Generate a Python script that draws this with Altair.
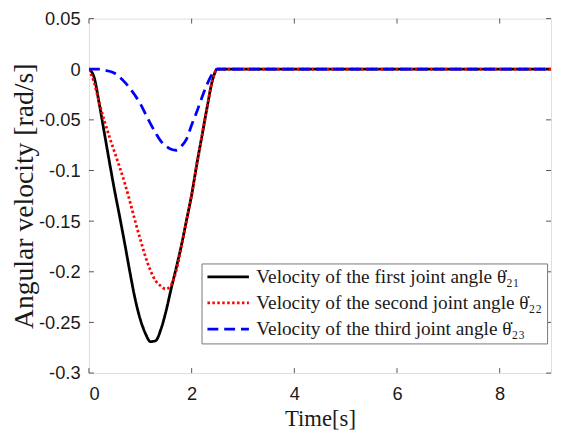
import altair as alt
import pandas as pd

# time samples [s]
time_s = [0.0, 0.1, 0.2, 0.3, 0.4, 0.5, 0.6, 0.7, 0.8, 0.9, 1.0, 1.1, 1.2, 1.3,
          1.4, 1.5, 1.6, 1.7, 1.8, 1.9, 2.0, 2.1, 2.2, 2.3, 2.4, 2.5, 9.0]

theta21 = [0, -0.008, -0.034, -0.063, -0.092, -0.120, -0.146, -0.173, -0.201, -0.227,
           -0.247, -0.261, -0.269, -0.268, -0.257, -0.239, -0.217, -0.196, -0.174, -0.149,
           -0.124, -0.094, -0.066, -0.038, -0.012, 0, 0]
theta22 = [0, -0.013, -0.033, -0.051, -0.067, -0.082, -0.097, -0.113, -0.131, -0.150,
           -0.168, -0.185, -0.199, -0.209, -0.214, -0.217, -0.213, -0.199, -0.176, -0.150,
           -0.124, -0.094, -0.066, -0.038, -0.012, 0, 0]
theta23 = [0, 0, 0, -0.001, -0.002, -0.004, -0.008, -0.013, -0.019, -0.026,
           -0.034, -0.044, -0.054, -0.063, -0.071, -0.076, -0.079, -0.080, -0.076, -0.069,
           -0.055, -0.042, -0.028, -0.015, -0.005, 0, 0]

series_names = [
    "Velocity of the first joint angle θ̇₂₁",
    "Velocity of the second joint angle θ̇₂₂",
    "Velocity of the third joint angle θ̇₂₃",
]
series_colors = ["#000000", "#ff0000", "#0000ff"]
series_dash = [[1, 0], [2.5, 2.5], [11, 6]]

x_ticks = [0, 2, 4, 6, 8]
y_ticks = [0.05, 0, -0.05, -0.1, -0.15, -0.2, -0.25, -0.3]

rows = []
for name, vals in zip(series_names, [theta21, theta22, theta23]):
    for t, v in zip(time_s, vals):
        rows.append({"t": t, "value": v, "series": name})
df = pd.DataFrame(rows)

W, H = 468, 359
TL = 5

xscale = alt.Scale(domain=[0, 9], nice=False, zero=False)
yscale = alt.Scale(domain=[-0.3, 0.05], nice=False, zero=False)

xaxis = alt.Axis(values=x_ticks, title="Time[s]", grid=False, ticks=False, tickSize=0,
                 domain=False, labelFont="Liberation Sans", labelFontSize=18.5,
                 labelColor="#1a1a1a", labelBaseline="alphabetic", labelPadding=27,
                 labelExpr="'' + datum.value",
                 titleFont="Liberation Serif", titleFontSize=23, titleFontWeight="normal",
                 titleColor="#1a1a1a", titleX=W / 2, titleY=53, titleBaseline="alphabetic",
                 titleAlign="center")
yaxis = alt.Axis(values=y_ticks, title="Angular velocity [rad/s]", grid=False, ticks=False,
                 tickSize=0, domain=False, labelFont="Liberation Sans", labelFontSize=18.5,
                 labelColor="#1a1a1a", labelPadding=9, labelExpr="'' + datum.value",
                 titleFont="Liberation Serif", titleFontSize=28, titleFontWeight="normal",
                 titleColor="#1a1a1a", titleAngle=270, titleX=-65, titleY=H / 2,
                 titleBaseline="middle", titleAlign="center")

X = alt.X("t:Q", scale=xscale, axis=xaxis)
Y = alt.Y("value:Q", scale=yscale, axis=yaxis)

lines = alt.Chart(df).mark_line(strokeWidth=2.8, clip=True, interpolate="monotone").encode(
    x=X,
    y=Y,
    color=alt.Color("series:N", scale=alt.Scale(domain=series_names, range=series_colors),
                    legend=alt.Legend(title=None, orient="none", legendX=114, legendY=248,
                                      symbolType="stroke", symbolSize=1764,
                                      symbolStrokeWidth=2.8, labelFont="Liberation Serif",
                                      labelFontSize=19.5, labelColor="#1a1a1a",
                                      labelLimit=500, labelOffset=6, rowPadding=6.5,
                                      clipHeight=18, padding=4.5,
                                      strokeColor="#777777", fillColor="white")),
    strokeDash=alt.StrokeDash("series:N",
                              scale=alt.Scale(domain=series_names, range=series_dash),
                              legend=None),
)

xt_df = pd.DataFrame({"t": x_ticks})
yt_df = pd.DataFrame({"value": y_ticks})

bottom_ticks = alt.Chart(xt_df).mark_rule(color="#555555", strokeWidth=1).encode(
    x=X, y=alt.value(H), y2=alt.value(H - TL))
top_ticks = alt.Chart(xt_df).mark_rule(color="#555555", strokeWidth=1).encode(
    x=X, y=alt.value(0), y2=alt.value(TL))
left_ticks = alt.Chart(yt_df).mark_rule(color="#555555", strokeWidth=1).encode(
    y=Y, x=alt.value(0), x2=alt.value(TL))
right_ticks = alt.Chart(yt_df).mark_rule(color="#555555", strokeWidth=1).encode(
    y=Y, x=alt.value(W), x2=alt.value(W - TL))

chart = alt.layer(bottom_ticks, top_ticks, left_ticks, right_ticks, lines).properties(
    width=W, height=H,
    autosize=alt.AutoSizeParams(type="none"),
    padding={"left": 82, "top": 8, "right": 3, "bottom": 60},
).configure_view(stroke="#555555", strokeWidth=1).configure(background="white")

chart.save("out.html", embed_options={"renderer": "svg", "actions": False})
